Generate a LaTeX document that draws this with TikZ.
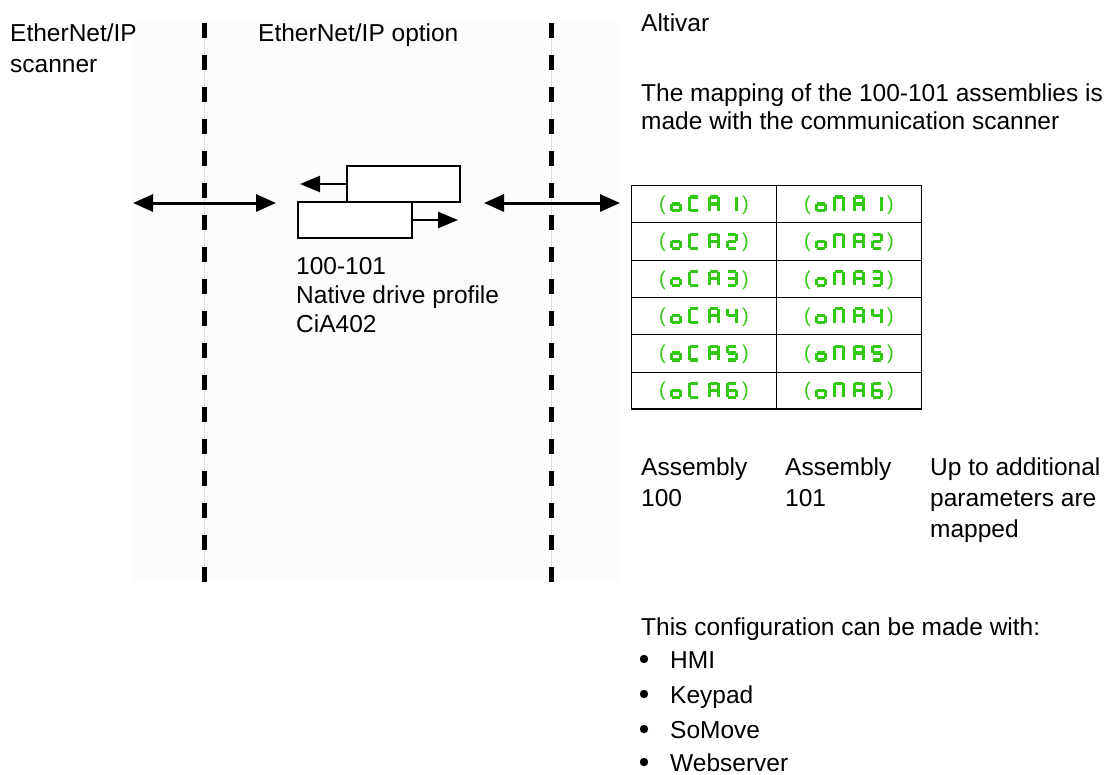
\documentclass[tikz,border=0pt]{standalone}
\usepackage{fontspec}
\setmainfont{Liberation Sans}
\usetikzlibrary{arrows.meta}
\definecolor{segreen}{RGB}{50,200,20}
\newcommand\sevseg[3]{%
  \begin{scope}[shift={(#1,#2)}]
    \foreach \s in #3 {\draw[segline] [sg \s];}
  \end{scope}}
\begin{document}
\begin{tikzpicture}[x=1pt,y=-1pt,
  txt/.style={anchor=base west, inner sep=0pt, font=\fontsize{24.5}{29}\selectfont},
  dashln/.style={line width=5pt, dash pattern=on 15pt off 17pt},
  hair/.style={line width=1pt, draw=black!12},
  bigarrow/.style={line width=3pt, {Triangle[length=20pt,width=17pt]}-{Triangle[length=20pt,width=17pt]}},
  smallarrow/.style={line width=2.5pt, -{Triangle[length=20pt,width=16pt]}},
  box/.style={draw, line width=2.5pt, fill=white, minimum height=36pt, inner sep=0pt, outer sep=0pt, anchor=north west},
  segline/.style={draw=segreen, line width=3.2pt, line cap=square},
  paren/.style={inner sep=0pt, text=segreen, font=\fontsize{20}{20}\selectfont},
  gridln/.style={line width=1.2pt},
  bullet/.style={circle, fill, inner sep=0pt, minimum size=8.4pt},
  sg a/.style={insert path={(1.6,1.6)--(10.4,1.6)}},
  sg b/.style={insert path={(10.4,1.6)--(10.4,8.5)}},
  sg c/.style={insert path={(10.4,8.5)--(10.4,15.4)}},
  sg d/.style={insert path={(1.6,15.4)--(10.4,15.4)}},
  sg e/.style={insert path={(1.6,8.5)--(1.6,15.4)}},
  sg f/.style={insert path={(1.6,1.6)--(1.6,8.5)}},
  sg g/.style={insert path={(1.6,8.5)--(10.4,8.5)}}]
\path[use as bounding box] (0,0) rectangle (1108,774);
% faint background
\fill[black!1] (133,22) rectangle (620,582);
% dashed separators
\coordinate (d1t) at (204.5,22.7); \coordinate (d1b) at (204.5,582);
\coordinate (d2t) at (551,22.7);   \coordinate (d2b) at (551,582);
\draw[hair] (d1t) -- (d1b);
\draw[hair] (d2t) -- (d2b);
\draw[dashln] (d1t) -- (d1b);
\draw[dashln] (d2t) -- (d2b);
% headings
\node[txt] (scan1) at (10,41.5) {EtherNet/IP};
\node[txt] (scan2) at (10,72.5) {scanner};
\node[txt] (opt) at (258,41.5) {EtherNet/IP option};
\node[txt] (alt) at (641,31.5) {Altivar};
\node[txt] (map1) at (641,101.5) {The mapping of the 100-101 assemblies is};
\node[txt] (map2) at (641,129.5) {made with the communication scanner};
% big arrows
\coordinate (a1l) at (133,203); \coordinate (a1r) at (276,203);
\coordinate (a2l) at (484,203); \coordinate (a2r) at (620,203);
\draw[bigarrow] (a1l) -- (a1r);
\draw[bigarrow] (a2l) -- (a2r);
% option boxes
\node[box, minimum width=113pt] (ub) at (347,166) {};
\node[box, minimum width=114pt] (lb) at (298,202) {};
\coordinate (ua) at (300,184);
\coordinate (la) at (458,220);
\draw[smallarrow] (ub.west) -- (ua);
\draw[smallarrow] (lb.east) -- (la);
\node[txt] (p1) at (296,274) {100-101};
\node[txt] (p2) at (296,303) {Native drive profile};
\node[txt] (p3) at (296,332) {CiA402};
% table
\draw[gridln] (631.3,185.3) rectangle (921.7,409);
\draw[gridln] (776.3,185.3) -- (776.3,409);
\foreach \yy in {222.3,260.3,297.3,334.3,372.3} {\draw[gridln] (631.3,\yy) -- (921.7,\yy);}
\foreach \r/\segs in {1/{b,c},2/{a,b,g,e,d},3/{a,b,g,c,d},4/{f,g,b,c},5/{a,f,g,c,d},6/{a,f,g,e,d,c}} {
  \pgfmathsetmacro\yc{185.3+37.28*(\r-0.5)}
  \pgfmathsetmacro\yt{\yc-8.5}
  \pgfmathsetmacro\yb{\yc+6.5}
  \foreach \dx/\cc in {0/a,145/b} {
    \node[paren, anchor=base west] (pl\r\cc) at (659+\dx,\yb) {(};
    \node[paren, anchor=base east] (pr\r\cc) at (749+\dx,\yb) {)};
    \sevseg{670+\dx}{\yt}{{c,d,e,g}}
    \sevseg{708+\dx}{\yt}{{a,b,c,e,f,g}}
    \sevseg{726+\dx}{\yt}{\segs}
  }
  \sevseg{688}{\yt}{{a,d,e,f}}
  \sevseg{833}{\yt}{{a,b,c,e,f}}
}
% assemblies
\node[txt] (as1) at (641,475) {Assembly};
\node[txt] (as1n) at (641,506) {100};
\node[txt] (as2) at (785,475) {Assembly};
\node[txt] (as2n) at (785,506) {101};
\node[txt] (up1) at (930,475) {Up to additional};
\node[txt] (up2) at (930,506) {parameters are};
\node[txt] (up3) at (930,537) {mapped};
% configuration list
\node[txt] (cfg) at (641,635) {This configuration can be made with:};
\foreach \i/\yy/\t in {1/668/HMI,2/703/Keypad,3/738/SoMove,4/771/Webserver} {
  \node[bullet] (b\i) at (644,\yy-9) {};
  \node[txt] (it\i) at (670,\yy) {\t};
}
\end{tikzpicture}
\end{document}
